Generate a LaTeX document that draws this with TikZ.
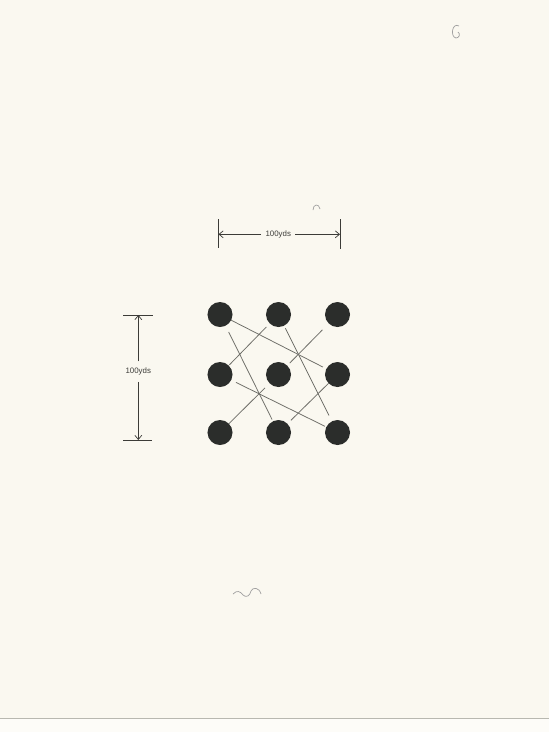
\documentclass[tikz,border=0pt]{standalone}
\usepackage{fontspec}
\setmainfont{Liberation Sans}
\usetikzlibrary{arrows.meta}

\definecolor{paper}{HTML}{FAF8F0}
\definecolor{paperlow}{HTML}{FDFCF8}
\definecolor{edgecol}{HTML}{B8B8B0}
\definecolor{dotcol}{HTML}{2B2D2B}
\definecolor{linkcol}{HTML}{6E6E68}
\definecolor{dimcol}{HTML}{3C3C38}
\definecolor{markcol}{HTML}{A0A0A0}

\tikzset{
  dot/.style={circle, fill=dotcol, minimum size=0.625cm, inner sep=0pt, outer sep=0pt},
  link/.style={linkcol, line width=0.55pt},
  dimline/.style={dimcol, line width=0.5pt},
  dimlabel/.style={font=\fontsize{5.6}{6}\selectfont, text=dimcol, inner sep=3pt}
}

\begin{document}
\begin{tikzpicture}[x=0.025cm, y=-0.025cm, >={Straight Barb[length=3pt, width=5pt]}]
  % Page
  \path[use as bounding box, fill=paper] (0,0) rectangle (549,732);
  \fill[paperlow] (0,718) rectangle (549,732);
  \draw[edgecol, line width=0.6pt] (0,718) -- (549,718);

  % Nine dots.
  \foreach \r/\y in {1/314.5, 2/374.5, 3/432.5}
    \foreach \c/\x in {1/220, 2/278.5, 3/337.5}
      \node[dot] (d\r\c) at (\x,\y) {};

  % Crossing lines.
  \draw[link, shorten >=2.8pt] (d11) -- (d23);
  \draw[link, shorten <=5pt, shorten >=1.4pt] (d11) -- (d32);
  \draw[link, shorten <=0.7pt, shorten >=3.5pt] (d21) -- (d12);
  \draw[link, shorten <=2pt, shorten >=4.7pt] (d12) -- (d33);
  \draw[link, shorten <=2.5pt, shorten >=6.4pt] (d22) -- (d13);
  \draw[link, shorten <=3.8pt, shorten >=1.1pt] (d21) -- (d33);
  \draw[link, shorten >=4.6pt] (d31) -- (d22);
  \draw[link, shorten <=3.5pt] (d32) -- (d23);

  % Horizontal dimension.
  \coordinate (hl) at (218.5,234.3);
  \coordinate (hr) at (340,234.3);
  \node[dimlabel] (hlab) at (278.3,234.3) {100yds};
  \draw[->, dimline] (hlab) -- (hl);
  \draw[->, dimline] (hlab) -- (hr);
  \draw[dimline] (hl) ++(0,-15) -- ++(0,29);
  \draw[dimline] (hr) ++(0,-15) -- ++(0,30);

  % Vertical dimension.
  \coordinate (vt) at (138.3,315);
  \coordinate (vb) at (138.3,440);
  \node[dimlabel, inner ysep=4.5pt] (vlab) at (138.3,371.7) {100yds};
  \draw[->, dimline] (vlab) -- (vt);
  \draw[->, dimline] (vlab) -- (vb);
  \draw[dimline] (vt) ++(-15,0) -- ++(30,0);
  \draw[dimline] (vb) ++(-15,0) -- ++(29,0);

  % Pencil marks on the sheet.
  \draw[markcol, line width=0.5pt] (459,26) .. controls (452,22) and (450,37) .. (456,38)
    .. controls (459,38) and (461,34) .. (458,32);
  \draw[markcol, line width=0.5pt] (313,210) .. controls (313,204) and (319,203) .. (320,209);
  \draw[markcol, line width=0.5pt] (233,594) .. controls (237,590) and (240,591) .. (243,595)
    .. controls (246,598) and (250,596) .. (251,591) .. controls (253,587) and (259,587) .. (261,594);
\end{tikzpicture}
\end{document}
